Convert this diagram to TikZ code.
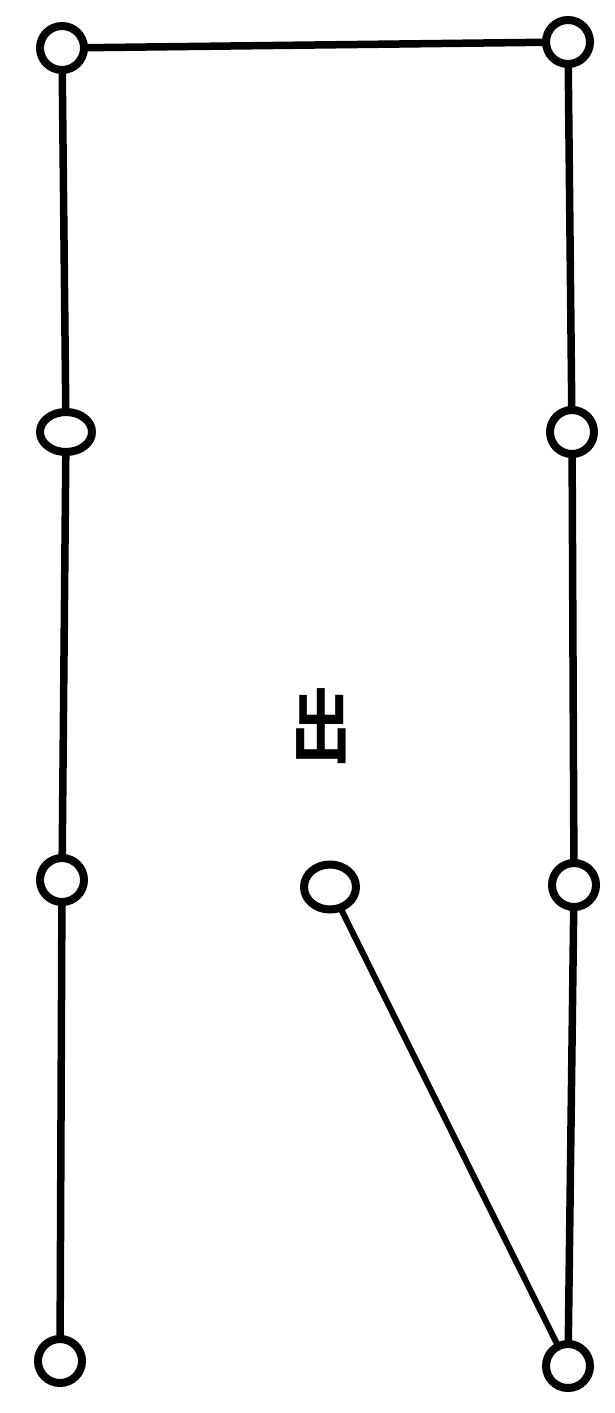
\documentclass[tikz,border=0pt]{standalone}
\usepackage{fontspec}
\usetikzlibrary{shapes.geometric,backgrounds}
\newfontfamily\cjk{Noto Sans CJK SC}[BoldFont={* Bold}]
\begin{document}
\begin{tikzpicture}[x=1pt,y=1pt,
  ring/.style={circle,draw=black,fill=white,line width=8pt,minimum size=44pt,inner sep=0pt},
  oval/.style={ellipse,draw=black,fill=white,line width=8pt,inner sep=0pt},
  edge/.style={line width=7.5pt},
  thin/.style={line width=6pt}]
\useasboundingbox (0,0) rectangle (615,-1413);
\node[ring] (tl) at (62,-48) {};
\node[ring] (tr) at (568,-42) {};
\node[oval,minimum width=52pt,minimum height=40pt] (lm) at (66,-432) {};
\node[ring] (ll) at (62,-880) {};
\node[oval,minimum width=52pt,minimum height=45pt] (c) at (330,-887) {};
\node[ring] (rm) at (572,-432) {};
\node[ring] (rl) at (574,-885) {};
\node[ring] (bl) at (60,-1361) {};
\node[ring] (br) at (568,-1366) {};
\node[inner sep=0pt] (t) at (321,-726) {\scalebox{0.75}[1]{\cjk\bfseries\fontsize{80}{80}\selectfont 出}};
\begin{scope}[on background layer]
\draw[edge] (tl.center) -- (tr.center);
\draw[edge] (tl.center) -- (lm.center);
\draw[edge] (lm.center) -- (ll.center);
\draw[edge] (ll.center) -- (bl.center);
\draw[edge] (tr.center) -- (rm.center);
\draw[edge] (rm.center) -- (rl.center);
\draw[edge] (rl.center) -- (br.center);
\draw[thin] (c.center) -- (br.center);
\end{scope}
\end{tikzpicture}
\end{document}
